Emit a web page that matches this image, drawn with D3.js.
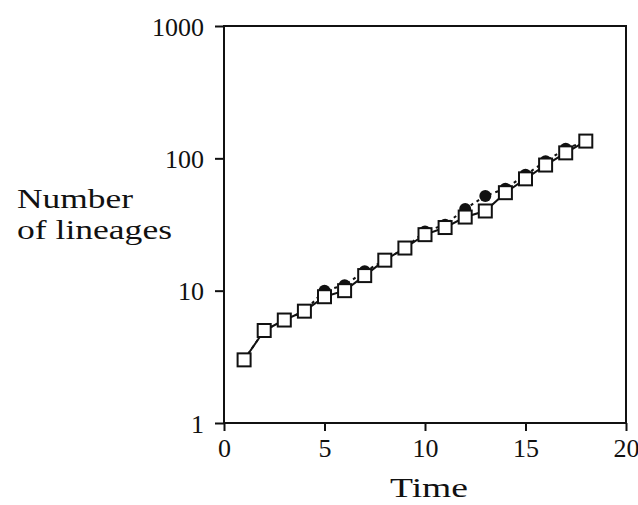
<!DOCTYPE html>
<html>
<head>
<meta charset="utf-8">
<script src="https://cdn.jsdelivr.net/npm/d3@7"></script>
<style>
  body { margin: 0; background: #fff; }
</style>
</head>
<body>
<svg id="chart" width="638" height="505"></svg>
<script>
// Data
const times = [1, 2, 3, 4, 5, 6, 7, 8, 9, 10, 11, 12, 13, 14, 15, 16, 17, 18];
const squareLineages = [3, 5, 6, 7, 9, 10, 13, 17, 21, 26.5, 30, 36, 40, 55, 70, 89, 110, 135];
const circleLineages = [3, 5, 6, 7, 10, 11, 14, 17, 21, 28, 31.5, 41.5, 52, 59, 75, 95, 118, 135];
const xTicks = [0, 5, 10, 15, 20];
const yTicks = [1, 10, 100, 1000];

const serif = '"Liberation Serif"';
const ink = '#111';
const svg = d3.select('#chart');
const plot = { left: 224, right: 626, top: 26, bottom: 423 };

const x = d3.scaleLinear().domain([0, 20]).range([plot.left, plot.right]);
const y = d3.scaleLog().domain([1, 1000]).range([plot.bottom, plot.top]);

// Frame
svg.append('rect')
    .attr('x', plot.left)
    .attr('y', plot.top)
    .attr('width', plot.right - plot.left)
    .attr('height', plot.bottom - plot.top)
    .attr('fill', 'none')
    .attr('stroke', ink)
    .attr('stroke-width', 2);

// Axes
const xAxis = svg.append('g')
    .attr('transform', `translate(0,${plot.bottom})`)
    .call(d3.axisBottom(x).tickValues(xTicks).tickSize(8).tickPadding(6).tickFormat(d3.format('d')));

const yAxis = svg.append('g')
    .attr('transform', `translate(${plot.left},0)`)
    .call(d3.axisLeft(y).tickValues(yTicks).tickSize(9).tickPadding(11).tickFormat(d3.format('d')));

[xAxis, yAxis].forEach(ax => {
    ax.select('.domain').remove();
    ax.selectAll('.tick line').attr('stroke', ink).attr('stroke-width', 2);
    ax.selectAll('.tick text')
        .style('font-family', serif)
        .style('font-size', '26px')
        .attr('fill', ink);
});
yAxis.selectAll('.tick text').attr('dy', '0.35em');
xAxis.selectAll('.tick text').attr('dy', '0.75em');

const pts = (vals) => times.map((t, i) => ({ t, v: vals[i] }));
const line = d3.line().x(d => x(d.t)).y(d => y(d.v));

// Circle series (dashed)
svg.append('path')
    .datum(pts(circleLineages))
    .attr('d', line)
    .attr('fill', 'none')
    .attr('stroke', ink)
    .attr('stroke-width', 2)
    .attr('stroke-dasharray', '3,4');

svg.append('g')
    .selectAll('circle')
    .data(pts(circleLineages))
    .join('circle')
    .attr('cx', d => x(d.t))
    .attr('cy', d => y(d.v))
    .attr('r', 6)
    .attr('fill', ink);

// Square series (solid)
svg.append('path')
    .datum(pts(squareLineages))
    .attr('d', line)
    .attr('fill', 'none')
    .attr('stroke', ink)
    .attr('stroke-width', 2);

const sq = 13;
svg.append('g')
    .selectAll('rect')
    .data(pts(squareLineages))
    .join('rect')
    .attr('x', d => x(d.t) - sq / 2)
    .attr('y', d => y(d.v) - sq / 2)
    .attr('width', sq)
    .attr('height', sq)
    .attr('fill', '#fff')
    .attr('stroke', ink)
    .attr('stroke-width', 2);

// Axis titles
function title(txt, tx, ty, len) {
    svg.append('text')
        .attr('x', tx).attr('y', ty)
        .style('font-family', serif)
        .style('font-size', '28px')
        .attr('fill', ink)
        .attr('textLength', len).attr('lengthAdjust', 'spacingAndGlyphs')
        .text(txt);
}
title('Number', 17, 208, 116);
title('of lineages', 17, 239, 155);
title('Time', 390, 497, 78);
</script>
</body>
</html>
